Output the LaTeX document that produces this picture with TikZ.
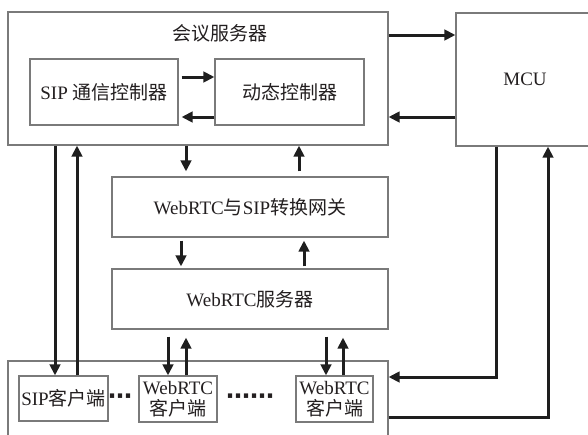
\documentclass[tikz,border=0pt]{standalone}
\usepackage{fontspec}
\setmainfont{Liberation Serif}
\newfontfamily\cjk{Noto Sans CJK SC}
\newfontfamily\symf{DejaVu Sans}
\usetikzlibrary{arrows.meta}
\definecolor{boxgray}{HTML}{7A7A7A}
\definecolor{arrk}{HTML}{1E1E1E}
\definecolor{txt}{HTML}{231F20}
\begin{document}
\begin{tikzpicture}[x=1pt,y=-1pt,
  box/.style={draw=boxgray,line width=1.2pt,inner sep=0pt,text=txt,
              font=\fontsize{19}{20}\selectfont},
  lbl/.style={inner sep=0pt,text=txt,font=\fontsize{19}{20}\selectfont},
  arr/.style={draw=arrk,line width=3pt,line join=miter,
              -{Triangle[length=11pt,width=10.5pt]}}]
\clip (0,0) rectangle (588,434);
\fill[white] (0,0) rectangle (588,434);

% boxes
\node[box,minimum width=380pt,minimum height=133pt] (srv) at (198,78.5) {};
\node[lbl] (srvt) at (220,33) {\cjk 会议服务器};
\node[box,minimum width=148pt,minimum height=66pt] (sipc) at (104,92) {SIP {\cjk 通信控制器}};
\node[box,minimum width=149pt,minimum height=66pt] (dyn) at (289.5,92) {\cjk 动态控制器};
\node[box,minimum width=138pt,minimum height=133pt] (mcu) at (525,79.5) {\raisebox{-3pt}{MCU}};
\node[box,minimum width=276pt,minimum height=60pt] (gw) at (250,207) {WebRTC{\cjk 与}SIP{\cjk 转换网关}};
\node[box,minimum width=276pt,minimum height=60pt] (ws) at (250,299) {WebRTC{\cjk 服务器}};
\node[box,minimum width=380pt,minimum height=100pt] (cl) at (198,411) {};
\node[box,minimum width=89pt,minimum height=45pt] (sipcl) at (63.5,398.5) {SIP{\cjk 客户端}};
\node[box,align=center,minimum width=78pt,minimum height=46pt] (wc1) at (178,399) {WebRTC\\[1pt]{\cjk 客户端}};
\node[box,align=center,minimum width=77pt,minimum height=46pt] (wc2) at (334.5,399) {WebRTC\\[1pt]{\cjk 客户端}};
\node[lbl,font=\fontsize{24}{24}\selectfont] (d1) at (120,399) {\symf\bfseries ⋯};
\node[lbl,font=\fontsize{24}{24}\selectfont] (d2) at (250,399) {\symf\bfseries ⋯⋯};

% arrows inside server
\draw[arr,shorten <=3pt] (sipc.east |- 0,77) -- (dyn.west |- 0,77);
\draw[arr,shorten >=3pt] (dyn.west |- 0,117) -- (sipc.east |- 0,117);
% server <-> MCU
\draw[arr] (srv.east |- 0,35) -- (mcu.west |- 0,35);
\draw[arr] (mcu.west |- 0,117) -- (srv.east |- 0,117);
% server <-> SIP client
\draw[arr] (srv.south -| 55,0) -- (sipcl.north -| 55,0);
\draw[arr] (sipcl.north -| 77,0) -- (srv.south -| 77,0);
% server <-> gateway
\draw[arr,shorten >=5pt] (srv.south -| 186,0) -- (gw.north -| 186,0);
\draw[arr,shorten <=5pt] (gw.north -| 299,0) -- (srv.south -| 299,0);
% gateway <-> webrtc server
\draw[arr,shorten <=3pt,shorten >=2pt] (gw.south -| 181,0) -- (ws.north -| 181,0);
\draw[arr,shorten <=2pt,shorten >=3pt] (ws.north -| 304,0) -- (gw.south -| 304,0);
% webrtc server <-> clients
\draw[arr,shorten <=7pt] (ws.south -| 168,0) -- (wc1.north -| 168,0);
\draw[arr,shorten >=8pt] (wc1.north -| 186,0) -- (ws.south -| 186,0);
\draw[arr,shorten <=7pt] (ws.south -| 326,0) -- (wc2.north -| 326,0);
\draw[arr,shorten >=8pt] (wc2.north -| 343,0) -- (ws.south -| 343,0);
% MCU <-> client area
\draw[arr] (mcu.south -| 496,0) |- (cl.east |- 0,377);
\draw[arr] (cl.east |- 0,417) -| (mcu.south -| 548,0);
\end{tikzpicture}
\end{document}
